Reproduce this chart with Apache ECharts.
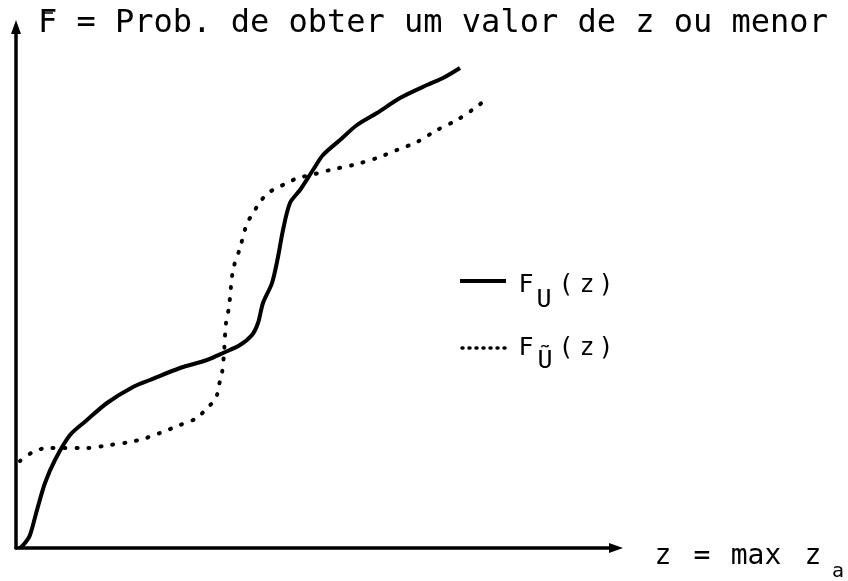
<!DOCTYPE html>
<html>
<head>
<meta charset="utf-8">
<script src="https://cdn.jsdelivr.net/npm/echarts@6/dist/echarts.min.js"></script>
<style>
html,body{margin:0;padding:0;background:#fff;}
#c{width:848px;height:581px;}
</style>
</head>
<body>
<div id="c"></div>
<script>
// F_U(z) : solid curve
var fuX = [4, 9, 14, 21, 29, 39, 54, 71, 91, 117, 134, 164, 191, 207, 224, 236, 242, 247, 256, 262, 267, 274, 284, 297, 307, 324, 341, 361, 384, 411, 427, 444];
var fuY = [0, 5, 13, 38, 65, 88, 113, 128, 145, 161, 168, 180, 188, 195, 203, 213, 225, 245, 265, 291, 318, 345, 358, 378, 393, 408, 423, 435, 450, 463, 470, 480];
// F_Ũ(z) : dotted curve
var ftX = [4, 17, 31, 47, 71, 94, 114, 127, 144, 164, 181, 191, 197, 201, 203, 206, 208, 210, 213, 217, 224, 231, 236, 244, 252, 261, 271, 282, 299, 314, 337, 361, 381, 401, 421, 441, 459, 468];
var ftY = [87, 96, 100, 100, 100, 103, 106, 109, 115, 123, 130, 140, 146, 153, 163, 175, 195, 225, 241, 278, 300, 325, 333, 346, 355, 360, 365, 370, 374, 378, 383, 390, 398, 406, 418, 428, 440, 447];

var titleText = 'F = Prob. de obter um valor de z ou menor';

function zip(a, b) { return a.map(function (v, i) { return [v, b[i]]; }); }

var chart = echarts.init(document.getElementById('c'), null, {renderer: 'canvas'});
var mono = '"DejaVu Sans Mono", monospace';
function glyph(t, x, y, size) {
  return {type: 'text', x: x, y: y, style: {text: t, font: size + 'px ' + mono, fill: '#000', align: 'center', verticalAlign: 'middle'}};
}
var hollowArrow = 'path://M5,0 L10,14 L0,14 Z M5,5 L7.2,11.5 L2.8,11.5 Z';
var axisLine = {show: true, symbol: ['none', hollowArrow], symbolSize: [11, 14], lineStyle: {color: '#000', width: 3.5}};
chart.setOption({
  animation: false,
  backgroundColor: '#fff',
  grid: {left: 16, right: 232, top: 27, bottom: 33},
  xAxis: {type: 'value', min: 0, max: 600, axisLine: axisLine, axisTick: {show: false}, axisLabel: {show: false}, splitLine: {show: false}},
  yAxis: {type: 'value', min: 0, max: 521, axisLine: axisLine, axisTick: {show: false}, axisLabel: {show: false}, splitLine: {show: false}},
  series: [
    {type: 'line', data: zip(fuX, fuY), smooth: 0.3, showSymbol: false, lineStyle: {color: '#000', width: 4}},
    {type: 'line', data: zip(ftX, ftY), smooth: 0.3, showSymbol: false, lineStyle: {color: '#000', width: 4, type: [1, 11], cap: 'round'}}
  ],
  graphic: [
    {type: 'text', x: 38, y: 24, style: {text: titleText, font: '32px ' + mono, fill: '#000', align: 'left', verticalAlign: 'middle'}},
    {type: 'line', shape: {x1: 42, y1: 13, x2: 53, y2: 13}, style: {stroke: '#000', lineWidth: 1.5}},
    // legend row 1
    {type: 'line', shape: {x1: 460, y1: 281, x2: 506, y2: 281}, style: {stroke: '#000', lineWidth: 4}},
    glyph('F', 526, 285, 25), glyph('U', 544, 300, 25), glyph('(', 566, 285, 25), glyph('z', 587, 285, 25), glyph(')', 606, 285, 25),
    // legend row 2
    {type: 'line', shape: {x1: 462, y1: 348, x2: 506, y2: 348}, style: {stroke: '#000', lineWidth: 3.5, lineDash: [1, 6], lineCap: 'round'}},
    glyph('F', 526, 348, 25), glyph('Ũ', 545, 361, 25), glyph('(', 566, 348, 25), glyph('z', 587, 348, 25), glyph(')', 606, 348, 25),
    // x axis label
    glyph('z', 663, 557, 28), glyph('=', 702, 557, 28), glyph('max', 756, 557, 28), glyph('z', 813, 557, 28), glyph('a', 838, 572, 20)
  ]
});
</script>
</body>
</html>
